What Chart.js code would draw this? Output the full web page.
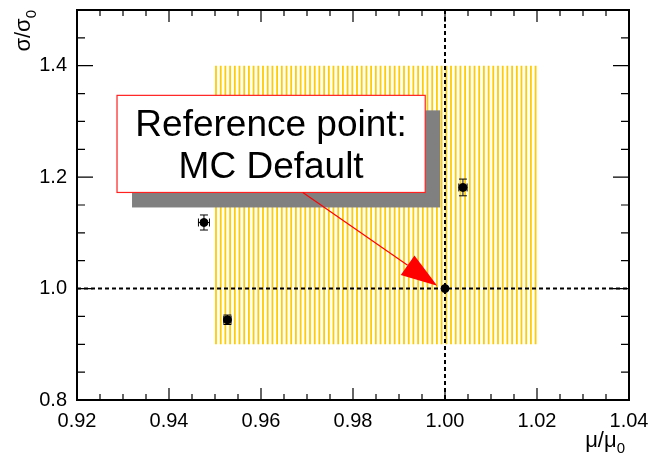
<!DOCTYPE html>
<html>
<head>
<meta charset="utf-8">
<script src="https://cdn.jsdelivr.net/npm/chart.js@4/dist/chart.umd.min.js"></script>
<style>
html, body { margin: 0; padding: 0; background: #fff; }
#wrap { width: 654px; height: 454px; }
</style>
</head>
<body>
<div id="wrap"><canvas id="chart" width="654" height="454"></canvas></div>
<script>
// fitted points (mu/mu0, sigma/sigma0) with errors
const muVals    = [0.9476, 0.9527, 1.0039];
const sigmaVals = [1.1186, 0.9440, 1.1815];
const muErrs    = [0.0012, 0.0008, 0.0009];
const sigmaErrs = [0.0135, 0.0085, 0.0150];

// reference point (MC default)
const refMu    = [1.00];
const refSigma = [1.00];

// scanned range (hatched band)
const bandMu    = [0.95, 1.02];
const bandSigma = [0.90, 1.40];

// axis ticks
const xTicks = [0.92, 0.94, 0.96, 0.98, 1.00, 1.02, 1.04];
const yTicks = [0.8, 1.0, 1.2, 1.4];

const labelLines = ['Reference point:', 'MC Default'];

// annotation placement, in data coordinates
const annot = {
    boxFrom: [0.9287, 1.3468],
    boxTo: [0.9957, 1.1725],
    arrowFrom: [0.9691, 1.1725],
    arrowTo: [0.9983, 1.005]
};

const FONT = '"Liberation Sans", Arial, Helvetica, sans-serif';

function drawSubText(ctx, main, sub, size, subSize) {
    // draws text ending at x=0 on baseline y=0
    ctx.font = size + 'px ' + FONT;
    const w1 = ctx.measureText(main).width;
    ctx.font = subSize + 'px ' + FONT;
    const w2 = ctx.measureText(sub).width;
    ctx.textAlign = 'left';
    ctx.textBaseline = 'alphabetic';
    ctx.font = size + 'px ' + FONT;
    ctx.fillText(main, -w1 - w2, 0);
    ctx.font = subSize + 'px ' + FONT;
    ctx.fillText(sub, -w2, 6);
}

const decor = {
    id: 'decor',
    beforeDatasetsDraw(chart) {
        const { ctx, chartArea: a, scales: { x, y } } = chart;
        ctx.save();

        // hatched band
        const bx0 = x.getPixelForValue(bandMu[0]), bx1 = x.getPixelForValue(bandMu[1]);
        const by0 = y.getPixelForValue(bandSigma[0]), by1 = y.getPixelForValue(bandSigma[1]);
        ctx.strokeStyle = '#ffcc00';
        ctx.lineWidth = 1.8;
        ctx.beginPath();
        for (let xx = bx0 + 1; xx <= bx1; xx += 4.7) {
            ctx.moveTo(xx, by1);
            ctx.lineTo(xx, by0);
        }
        ctx.stroke();

        // text box with shadow
        const tx0 = x.getPixelForValue(annot.boxFrom[0]), ty0 = y.getPixelForValue(annot.boxFrom[1]);
        const tx1 = x.getPixelForValue(annot.boxTo[0]), ty1 = y.getPixelForValue(annot.boxTo[1]);
        ctx.fillStyle = '#808080';
        ctx.fillRect(tx0 + 15, ty0 + 15, tx1 - tx0, ty1 - ty0);
        ctx.fillStyle = '#fff';
        ctx.fillRect(tx0, ty0, tx1 - tx0, ty1 - ty0);
        ctx.strokeStyle = '#ff2020';
        ctx.lineWidth = 1.2;
        ctx.strokeRect(tx0, ty0, tx1 - tx0, ty1 - ty0);
        ctx.fillStyle = '#000';
        ctx.font = '37px ' + FONT;
        ctx.textAlign = 'center';
        ctx.textBaseline = 'alphabetic';
        const cx = (tx0 + tx1) / 2;
        ctx.fillText(labelLines[0], cx, ty0 + 41);
        ctx.fillText(labelLines[1], cx, ty0 + 83);

        // dashed guide lines through the reference point
        const rx = x.getPixelForValue(refMu[0]), ry = y.getPixelForValue(refSigma[0]);
        ctx.strokeStyle = '#000';
        ctx.lineWidth = 2;
        ctx.setLineDash([4, 3]);
        ctx.beginPath();
        ctx.moveTo(rx, a.top); ctx.lineTo(rx, a.bottom);
        ctx.moveTo(a.left, ry); ctx.lineTo(a.right, ry);
        ctx.stroke();
        ctx.setLineDash([]);

        // arrow
        const ax0 = x.getPixelForValue(annot.arrowFrom[0]), ay0 = y.getPixelForValue(annot.arrowFrom[1]);
        const ax1 = x.getPixelForValue(annot.arrowTo[0]), ay1 = y.getPixelForValue(annot.arrowTo[1]);
        const ang = Math.atan2(ay1 - ay0, ax1 - ax0);
        const hl = 36, hw = 12;
        ctx.strokeStyle = '#ff0000';
        ctx.lineWidth = 1.2;
        ctx.beginPath();
        ctx.moveTo(ax0, ay0);
        ctx.lineTo(ax1 - hl * Math.cos(ang), ay1 - hl * Math.sin(ang));
        ctx.stroke();
        ctx.fillStyle = '#ff0000';
        ctx.beginPath();
        ctx.moveTo(ax1, ay1);
        ctx.lineTo(ax1 - hl * Math.cos(ang) + hw * Math.sin(ang), ay1 - hl * Math.sin(ang) - hw * Math.cos(ang));
        ctx.lineTo(ax1 - hl * Math.cos(ang) - hw * Math.sin(ang), ay1 - hl * Math.sin(ang) + hw * Math.cos(ang));
        ctx.closePath();
        ctx.fill();

        // error bars
        ctx.strokeStyle = '#000';
        ctx.lineWidth = 1;
        ctx.beginPath();
        muVals.forEach((m, i) => {
            const px = x.getPixelForValue(m), py = y.getPixelForValue(sigmaVals[i]);
            const xl = x.getPixelForValue(m - muErrs[i]), xr = x.getPixelForValue(m + muErrs[i]);
            const yt = y.getPixelForValue(sigmaVals[i] + sigmaErrs[i]), yb = y.getPixelForValue(sigmaVals[i] - sigmaErrs[i]);
            ctx.moveTo(xl, py); ctx.lineTo(xr, py);
            ctx.moveTo(px, yt); ctx.lineTo(px, yb);
            ctx.moveTo(xl, py - 4); ctx.lineTo(xl, py + 4);
            ctx.moveTo(xr, py - 4); ctx.lineTo(xr, py + 4);
            ctx.moveTo(px - 4, yt); ctx.lineTo(px + 4, yt);
            ctx.moveTo(px - 4, yb); ctx.lineTo(px + 4, yb);
        });
        ctx.stroke();
        ctx.restore();
    },
    afterDatasetsDraw(chart) {
        const { ctx, chartArea: a, scales: { x, y } } = chart;
        ctx.save();
        ctx.strokeStyle = '#000';

        // ticks on all four sides, pointing inwards
        ctx.lineWidth = 1.2;
        ctx.beginPath();
        for (let k = 0; k <= 24; k++) {
            const v = 0.92 + k * 0.005;
            const p = x.getPixelForValue(v);
            const len = k % 4 === 0 ? 12 : 6;
            ctx.moveTo(p, a.bottom); ctx.lineTo(p, a.bottom - len);
            ctx.moveTo(p, a.top); ctx.lineTo(p, a.top + len);
        }
        for (let k = 0; k <= 14; k++) {
            const v = 0.8 + k * 0.05;
            const p = y.getPixelForValue(v);
            const len = k % 4 === 0 ? 16 : 8;
            ctx.moveTo(a.left, p); ctx.lineTo(a.left + len, p);
            ctx.moveTo(a.right, p); ctx.lineTo(a.right - len, p);
        }
        ctx.stroke();

        // frame
        ctx.lineWidth = 2;
        ctx.strokeRect(a.left, a.top, a.right - a.left, a.bottom - a.top);

        // axis titles
        ctx.fillStyle = '#000';
        ctx.save();
        ctx.translate(a.right - 4, 447);
        drawSubText(ctx, '\u03bc/\u03bc', '0', 22, 15);
        ctx.restore();
        ctx.save();
        ctx.translate(30, a.top);
        ctx.rotate(-Math.PI / 2);
        drawSubText(ctx, '\u03c3/\u03c3', '0', 22, 15);
        ctx.restore();

        ctx.restore();
    }
};

new Chart(document.getElementById('chart'), {
    type: 'scatter',
    data: {
        datasets: [{
            data: muVals.map((m, i) => ({ x: m, y: sigmaVals[i] })),
            pointRadius: 4,
            pointHoverRadius: 4,
            backgroundColor: '#000',
            borderColor: '#000'
        }, {
            data: refMu.map((m, i) => ({ x: m, y: refSigma[i] })),
            pointRadius: 4,
            pointHoverRadius: 4,
            backgroundColor: '#000',
            borderColor: '#000'
        }]
    },
    options: {
        responsive: false,
        animation: false,
        devicePixelRatio: 1,
        layout: { padding: { left: 0, right: 25, top: 10, bottom: 0 } },
        plugins: { legend: { display: false }, tooltip: { enabled: false } },
        scales: {
            x: {
                type: 'linear',
                min: 0.92,
                max: 1.04,
                grid: { display: false, drawTicks: false },
                border: { display: false },
                afterBuildTicks: s => { s.ticks = xTicks.map(v => ({ value: v })); },
                afterFit: s => { s.height = 54; s.paddingLeft = 0; s.paddingRight = 0; },
                ticks: {
                    font: { family: FONT, size: 20 },
                    color: '#000',
                    padding: 9,
                    maxRotation: 0,
                    autoSkip: false,
                    callback: v => v.toFixed(2)
                }
            },
            y: {
                type: 'linear',
                min: 0.8,
                max: 1.5,
                grid: { display: false, drawTicks: false },
                border: { display: false },
                afterBuildTicks: s => { s.ticks = yTicks.map(v => ({ value: v })); },
                afterFit: s => { s.width = 77; s.paddingTop = 0; s.paddingBottom = 0; },
                ticks: {
                    font: { family: FONT, size: 20 },
                    color: '#000',
                    padding: 10,
                    autoSkip: false,
                    callback: v => v.toFixed(1)
                }
            }
        }
    },
    plugins: [decor]
});
</script>
</body>
</html>
